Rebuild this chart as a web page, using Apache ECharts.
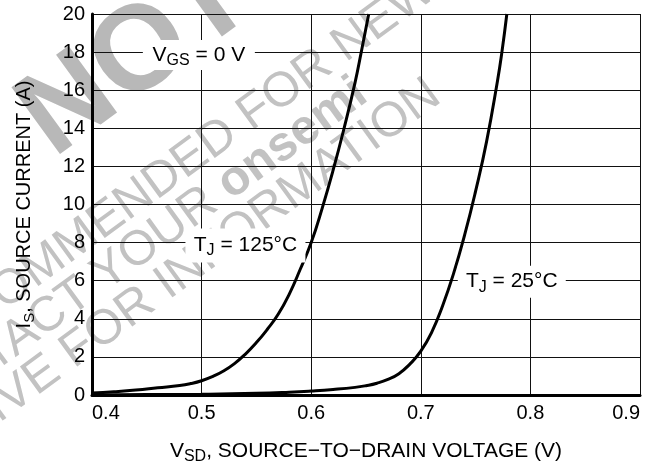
<!DOCTYPE html>
<html>
<head>
<meta charset="utf-8">
<script src="https://cdn.jsdelivr.net/npm/echarts@6/dist/echarts.min.js"></script>
<style>
  html, body { margin: 0; padding: 0; background: #fff; }
  #chart { width: 662px; height: 470px; }
</style>
</head>
<body>
<div id="chart"></div>
<script>
// values: V_SD (V) -> I_S (A)
const vsd125 = [0.40, 0.42, 0.44, 0.46, 0.48, 0.49, 0.50, 0.51, 0.52, 0.53, 0.54, 0.55, 0.56, 0.57, 0.58, 0.59, 0.60, 0.61, 0.62, 0.63, 0.64, 0.646, 0.6525]
const is125 = [0.1, 0.17, 0.26, 0.38, 0.5, 0.6, 0.75, 0.97, 1.26, 1.65, 2.15, 2.75, 3.45, 4.25, 5.3, 6.6, 8.0, 9.8, 11.8, 14.0, 16.4, 18.1, 20]
const vsd25 = [0.40, 0.45, 0.50, 0.55, 0.58, 0.60, 0.62, 0.64, 0.65, 0.66, 0.67, 0.68, 0.69, 0.70, 0.71, 0.72, 0.73, 0.74, 0.75, 0.76, 0.77, 0.774, 0.7785]
const is25 = [0.0, 0.02, 0.04, 0.09, 0.15, 0.21, 0.29, 0.4, 0.49, 0.62, 0.82, 1.12, 1.62, 2.3, 3.3, 4.7, 6.4, 8.4, 10.7, 13.3, 16.5, 18.0, 20]

const xTicks = [0.4, 0.5, 0.6, 0.7, 0.8, 0.9]
const yTicks = [0, 2, 4, 6, 8, 10, 12, 14, 16, 18, 20]

// boxed notes on the plot
const notes = [
  { text: '{n|V}{s|GS}{n| = 0 V}', at: [0.4975, 17.85], box: [112, 30] },
  { text: '{n|T}{s|J}{n| = 125°C}', at: [0.540, 7.85], box: [120, 34] },
  { text: '{n|T}{s|J}{n| = 25°C}', at: [0.783, 5.95], box: [108, 32] }
]

const FONT = '"Liberation Sans", Arial, Helvetica, sans-serif'
function richFor(size) {
  return {
    n: { fontSize: size, lineHeight: size + 6, color: '#000', fontFamily: FONT },
    s: { fontSize: Math.round(size * 0.75), lineHeight: Math.round(size * 0.75), verticalAlign: 'bottom', color: '#000', fontFamily: FONT }
  }
}

// grey "not recommended" watermark behind the plot
const wmLines = [
  { segs: [['NOT', 'bold']], anchor: 0, t: -50, d: 170, size: 120, fill: '#b8b8b8' },
  { segs: [['RECOMMENDED ', 'normal'], ['FOR NEW DESIGN', 'normal']], anchor: 1, t: 126, d: 258, size: 49, fill: '#c2c2c2' },
  { segs: [['CONTACT ', 'normal'], ['YOUR ', 'normal'], ['onsemi', 'bold']], anchor: 1, t: -86, d: 302, size: 49, fill: '#c2c2c2' },
  { segs: [['REPRESENTATIVE ', 'normal'], ['FOR INFORMATION', 'normal']], anchor: 1, t: -157, d: 346, size: 49, fill: '#c2c2c2' }
]

function watermark() {
  const ang = 36 * Math.PI / 180
  const dir = [Math.cos(ang), -Math.sin(ang)]
  const nrm = [Math.sin(ang), Math.cos(ang)]
  const ctx = document.createElement('canvas').getContext('2d')
  const els = []
  wmLines.forEach(line => {
    const fonts = line.segs.map(s => s[1] + ' ' + line.size + 'px ' + FONT)
    const widths = line.segs.map((s, i) => { ctx.font = fonts[i]; return ctx.measureText(s[0]).width })
    let off = 0
    const offs = widths.map(w => { const o = off; off += w; return o })
    const d = line.d - 0.36 * line.size
    line.segs.forEach((s, i) => {
      const tt = line.t + offs[i] - offs[line.anchor]
      els.push({
        type: 'text',
        x: tt * dir[0] + d * nrm[0],
        y: tt * dir[1] + d * nrm[1],
        rotation: ang,
        z: -10,
        silent: true,
        style: {
          text: s[0],
          font: fonts[i],
          fill: line.fill,
          align: 'left',
          verticalAlign: 'middle',
          textAlign: 'left',
          textVerticalAlign: 'middle'
        }
      })
    })
  })
  return els
}

const chart = echarts.init(document.getElementById('chart'))

chart.setOption({
  backgroundColor: '#fff',
  animation: false,
  graphic: { elements: watermark() },
  grid: { left: 92, right: 22, top: 14, bottom: 73, containLabel: false },
  xAxis: {
    type: 'value',
    min: xTicks[0],
    max: xTicks[xTicks.length - 1],
    interval: 0.1,
    name: '{n|V}{s|SD}{n|, SOURCE\u2212TO\u2212DRAIN VOLTAGE (V)}',
    nameLocation: 'middle',
    nameGap: 43,
    nameTextStyle: { rich: richFor(21) },
    axisLine: { show: true, lineStyle: { color: '#000', width: 3 } },
    axisTick: { show: false },
    axisLabel: {
      color: '#000', fontSize: 20, fontFamily: FONT, margin: 8,
      alignMinLabel: 'left', alignMaxLabel: 'right',
      formatter: v => v.toFixed(1)
    },
    splitLine: { show: true, lineStyle: { color: '#111', width: 1 } }
  },
  yAxis: {
    type: 'value',
    min: yTicks[0],
    max: yTicks[yTicks.length - 1],
    interval: 2,
    name: '{n|I}{s|S}{n|, SOURCE CURRENT (A)}',
    nameLocation: 'middle',
    nameGap: 55,
    nameTextStyle: { rich: richFor(20) },
    axisLine: { show: true, lineStyle: { color: '#000', width: 3 } },
    axisTick: { show: false },
    axisLabel: { color: '#000', fontSize: 20, fontFamily: FONT, margin: 7 },
    splitLine: { show: true, lineStyle: { color: '#111', width: 1 } }
  },
  series: [
    {
      name: 'TJ = 125°C',
      type: 'line',
      data: vsd125.map((v, i) => [v, is125[i]]),
      showSymbol: false,
      smooth: 0.5,
      lineStyle: { color: '#000', width: 3 },
      markPoint: {
        symbol: 'rect',
        itemStyle: { color: '#fff' },
        label: { show: true, position: 'inside', rich: richFor(21) },
        data: notes.map(nt => ({
          coord: nt.at,
          symbolSize: nt.box,
          label: { formatter: nt.text }
        }))
      }
    },
    {
      name: 'TJ = 25°C',
      type: 'line',
      data: vsd25.map((v, i) => [v, is25[i]]),
      showSymbol: false,
      smooth: 0.5,
      lineStyle: { color: '#000', width: 3 }
    }
  ]
})
</script>
</body>
</html>
